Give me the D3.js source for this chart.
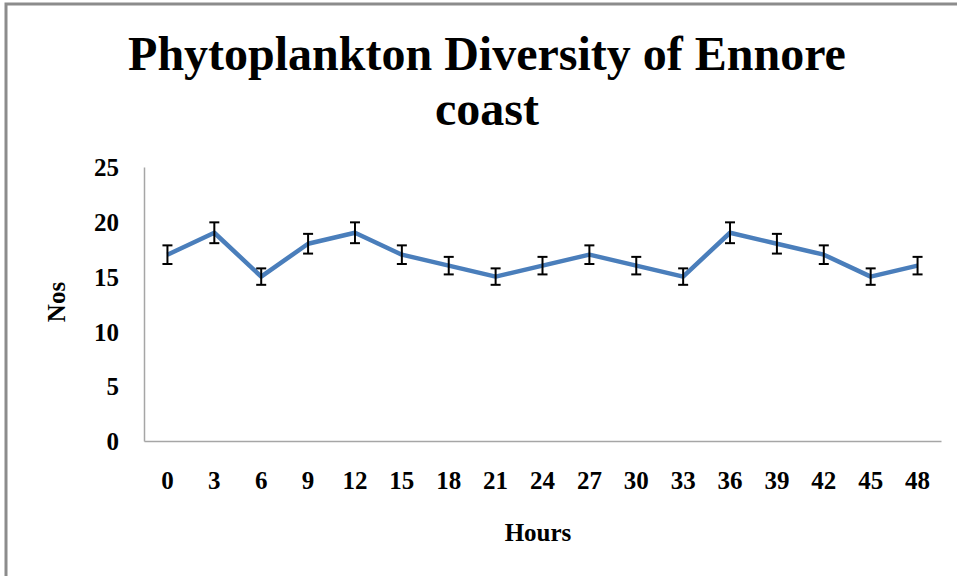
<!DOCTYPE html>
<html>
<head>
<meta charset="utf-8">
<script src="https://cdn.jsdelivr.net/npm/d3@7"></script>
<style>
  body { margin: 0; background: #fff; }
  text { font-family: "Liberation Serif", "Times New Roman", serif; font-weight: bold; fill: #000; }
</style>
</head>
<body>
<svg width="957" height="576"></svg>
<script>
// chart data
var hours = ['0', '3', '6', '9', '12', '15', '18', '21', '24', '27', '30', '33', '36', '39', '42', '45', '48'];
var counts = [17, 19, 15, 18, 19, 17, 16, 15, 16, 17, 16, 15, 19, 18, 17, 15, 16];
var errors = [0.85, 0.95, 0.75, 0.9, 0.95, 0.85, 0.8, 0.75, 0.8, 0.85, 0.8, 0.75, 0.95, 0.9, 0.85, 0.75, 0.8];
var yTicks = [0, 5, 10, 15, 20, 25];

var svg = d3.select('svg');

// outer frame (only top and left edges visible)
svg.append('path')
    .attr('d', 'M6,576 V4 H957')
    .attr('fill', 'none')
    .attr('stroke', '#8c8c8c')
    .attr('stroke-width', 3);

var padding = {t: 167, r: 16, b: 135, l: 144};
var chartWidth = 957 - padding.l - padding.r;
var chartHeight = 576 - padding.t - padding.b;

var chartG = svg.append('g')
    .attr('transform', 'translate(' + [padding.l, padding.t] + ')');

var xScale = d3.scaleBand()
    .domain(hours)
    .range([0, chartWidth]);
var yScale = d3.scaleLinear()
    .domain([0, 25])
    .range([chartHeight, 0]);

// axes
var xAxis = chartG.append('g')
    .attr('transform', 'translate(0,' + chartHeight + ')')
    .call(d3.axisBottom(xScale).tickSize(0).tickPadding(30));
var yAxis = chartG.append('g')
    .call(d3.axisLeft(yScale).tickValues(yTicks).tickSize(0).tickPadding(25));

[xAxis, yAxis].forEach(function(a) {
    a.select('.domain').attr('stroke', '#a6a6a6').attr('stroke-width', 1.5);
    a.selectAll('text')
        .style('font-family', '"Liberation Serif", serif')
        .style('font-weight', 'bold')
        .style('font-size', '25px')
        .attr('fill', '#000');
});
yAxis.selectAll('text').attr('dy', '0.35em');

var cx = function(d, i) { return xScale(hours[i]) + xScale.bandwidth() / 2; };

// line
var line = d3.line()
    .x(function(d, i) { return cx(d, i); })
    .y(function(d) { return yScale(d); });
chartG.append('path')
    .datum(counts)
    .attr('d', line)
    .attr('fill', 'none')
    .attr('stroke', '#4a7ebb')
    .attr('stroke-width', 4.5)
    .attr('stroke-linejoin', 'round');

// error bars
var bars = chartG.selectAll('.err')
    .data(counts)
    .enter()
    .append('g')
    .attr('class', 'err')
    .attr('stroke', '#000')
    .attr('stroke-width', 2);
bars.append('line')
    .attr('x1', cx).attr('x2', cx)
    .attr('y1', function(d, i) { return yScale(d + errors[i]); })
    .attr('y2', function(d, i) { return yScale(d - errors[i]); });
bars.append('line')
    .attr('x1', function(d, i) { return cx(d, i) - 5; })
    .attr('x2', function(d, i) { return cx(d, i) + 5; })
    .attr('y1', function(d, i) { return yScale(d + errors[i]); })
    .attr('y2', function(d, i) { return yScale(d + errors[i]); });
bars.append('line')
    .attr('x1', function(d, i) { return cx(d, i) - 5; })
    .attr('x2', function(d, i) { return cx(d, i) + 5; })
    .attr('y1', function(d, i) { return yScale(d - errors[i]); })
    .attr('y2', function(d, i) { return yScale(d - errors[i]); });

// title
svg.append('text')
    .attr('x', 487)
    .attr('y', 70)
    .attr('text-anchor', 'middle')
    .style('font-size', '48px')
    .text('Phytoplankton Diversity of Ennore');
svg.append('text')
    .attr('x', 487)
    .attr('y', 125)
    .attr('text-anchor', 'middle')
    .style('font-size', '48px')
    .text('coast');

// axis labels
svg.append('text')
    .attr('x', 538)
    .attr('y', 541)
    .attr('text-anchor', 'middle')
    .style('font-size', '25px')
    .text('Hours');
svg.append('text')
    .attr('transform', 'translate(65,302) rotate(-90)')
    .attr('text-anchor', 'middle')
    .style('font-size', '25px')
    .text('Nos');
</script>
</body>
</html>
